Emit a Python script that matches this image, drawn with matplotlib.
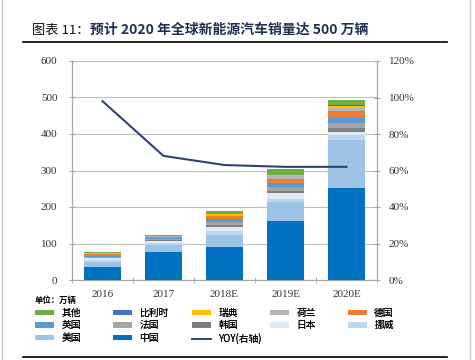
import numpy as np
import matplotlib
matplotlib.use('Agg')
from matplotlib import pyplot as plt
from matplotlib.patches import Patch
from matplotlib.lines import Line2D

plt.rcParams['font.family'] = ['Noto Sans CJK SC', 'DejaVu Sans']

years = ['2016', '2017', '2018E', '2019E', '2020E']
# stacked from bottom to top (万辆)
china   = [36, 78, 91, 162, 252]
usa     = [14, 18, 33, 52, 132]
norway  = [5, 6, 10, 9, 12]
japan   = [4, 5, 12, 14, 10]
korea   = [2, 2, 6, 7, 10]
france  = [3, 3, 8, 11, 13]
uk      = [3, 3, 7, 11, 16]
germany = [3, 4, 7, 12, 19]
nether  = [2, 1, 4, 6, 8]
sweden  = [1, 1, 2, 3, 4]
belgium = [0.5, 0.5, 1, 2, 3]
other   = [2, 1, 8, 14, 14]
yoy     = [98, 68, 63, 62, 62]

series = [
    ('中国', china, '#0070C0'),
    ('美国', usa, '#9DC3E6'),
    ('挪威', norway, '#BDD7EE'),
    ('日本', japan, '#DEEBF7'),
    ('韩国', korea, '#7F7F7F'),
    ('法国', france, '#A5A5A5'),
    ('英国', uk, '#5B9BD5'),
    ('德国', germany, '#ED7D31'),
    ('荷兰', nether, '#B4B4B4'),
    ('瑞典', sweden, '#FFC000'),
    ('比利时', belgium, '#4472C4'),
    ('其他', other, '#70AD47'),
]

fig = plt.figure(figsize=(4.75, 3.6), dpi=100)
ax = fig.add_axes([72/475, 1-280/360, 305/475, 219/360])
x = np.arange(len(years))
bottom = np.zeros(len(years))
handles = {}
for name, vals, col in series:
    ax.bar(x, vals, 0.6, bottom=bottom, color=col, zorder=3)
    bottom += np.array(vals)
    handles[name] = Patch(facecolor=col, edgecolor='none')

ax.set_ylim(0, 600)
ax.set_xlim(-0.5, 4.5)
ax.set_yticks(range(0, 601, 100))
ax.yaxis.grid(True, color='#BFBFBF', lw=0.8, zorder=0)
ax.set_xticks(x)
ax.set_xticklabels(years)
ax.set_xticks(np.arange(-0.5, 5, 1), minor=True)
ax.tick_params(axis='x', which='major', length=0, pad=7)
ax.tick_params(axis='x', which='minor', length=4, direction='inout', color='#A6A6A6')
ax.tick_params(axis='y', length=5, direction='inout', color='#A6A6A6', pad=8)
ax.spines['top'].set_visible(False)
for s in ['left', 'right', 'bottom']:
    ax.spines[s].set_color('#A6A6A6')
for lab in ax.get_xticklabels() + ax.get_yticklabels():
    lab.set_fontfamily('Liberation Serif')
    lab.set_fontsize(8)
    lab.set_color('#333333')

ax2 = ax.twinx()
ax2.plot(x, yoy, color='#2E4370', lw=1.5, zorder=4)
ax2.set_ylim(0, 120)
ax2.set_yticks(range(0, 121, 20))
ax2.set_yticklabels([f'{v}%' for v in range(0, 121, 20)])
ax2.tick_params(axis='y', length=5, direction='inout', color='#A6A6A6', pad=6)
ax2.spines['top'].set_visible(False)
for s in ['left', 'right', 'bottom']:
    ax2.spines[s].set_color('#A6A6A6')
for lab in ax2.get_yticklabels():
    lab.set_fontfamily('Liberation Serif')
    lab.set_fontsize(8)
    lab.set_color('#333333')

handles['YOY(右轴)'] = Line2D([], [], color='#2E4370', lw=1.2)
columns = [['其他', '英国', '美国'], ['比利时', '法国', '中国'], ['瑞典', '韩国', 'YOY(右轴)'],
           ['荷兰', '日本'], ['德国', '挪威']]
col_x = [35, 113, 192, 270, 348]
for cx, names in zip(col_x, columns):
    leg = fig.legend([handles[k] for k in names], names, loc='upper left',
                     bbox_to_anchor=(cx/475, 1-308/360), frameon=False, fontsize=7,
                     handlelength=2.0, handleheight=0.5, handletextpad=0.7,
                     labelspacing=0.25, borderaxespad=0, borderpad=0)
    fig.add_artist(leg)

fig.text(35/475, 1-300/360, '单位：万辆', fontsize=6, fontweight='bold', va='center')

# title
fig.text(32/475, 1-30/360, '图表 11：', fontsize=9.5, va='center', color='#111111')
fig.text(90/475, 1-30/360, '预计 2020 年全球新能源汽车销量达 500 万辆', fontsize=10,
         fontweight='bold', va='center', color='#1F3050')
fig.add_artist(Line2D([23/475, 447/475], [1-42/360, 1-42/360], color='black', lw=1.2))
fig.add_artist(Line2D([23/475, 447/475], [1-357/360, 1-357/360], color='black', lw=1.2))
fig.add_artist(Line2D([2/475, 2/475], [0, 1], color='#C8C8C8', lw=1))
fig.add_artist(Line2D([470/475, 470/475], [0, 1], color='#C8C8C8', lw=1))

fig.savefig('out.png', dpi=100)
